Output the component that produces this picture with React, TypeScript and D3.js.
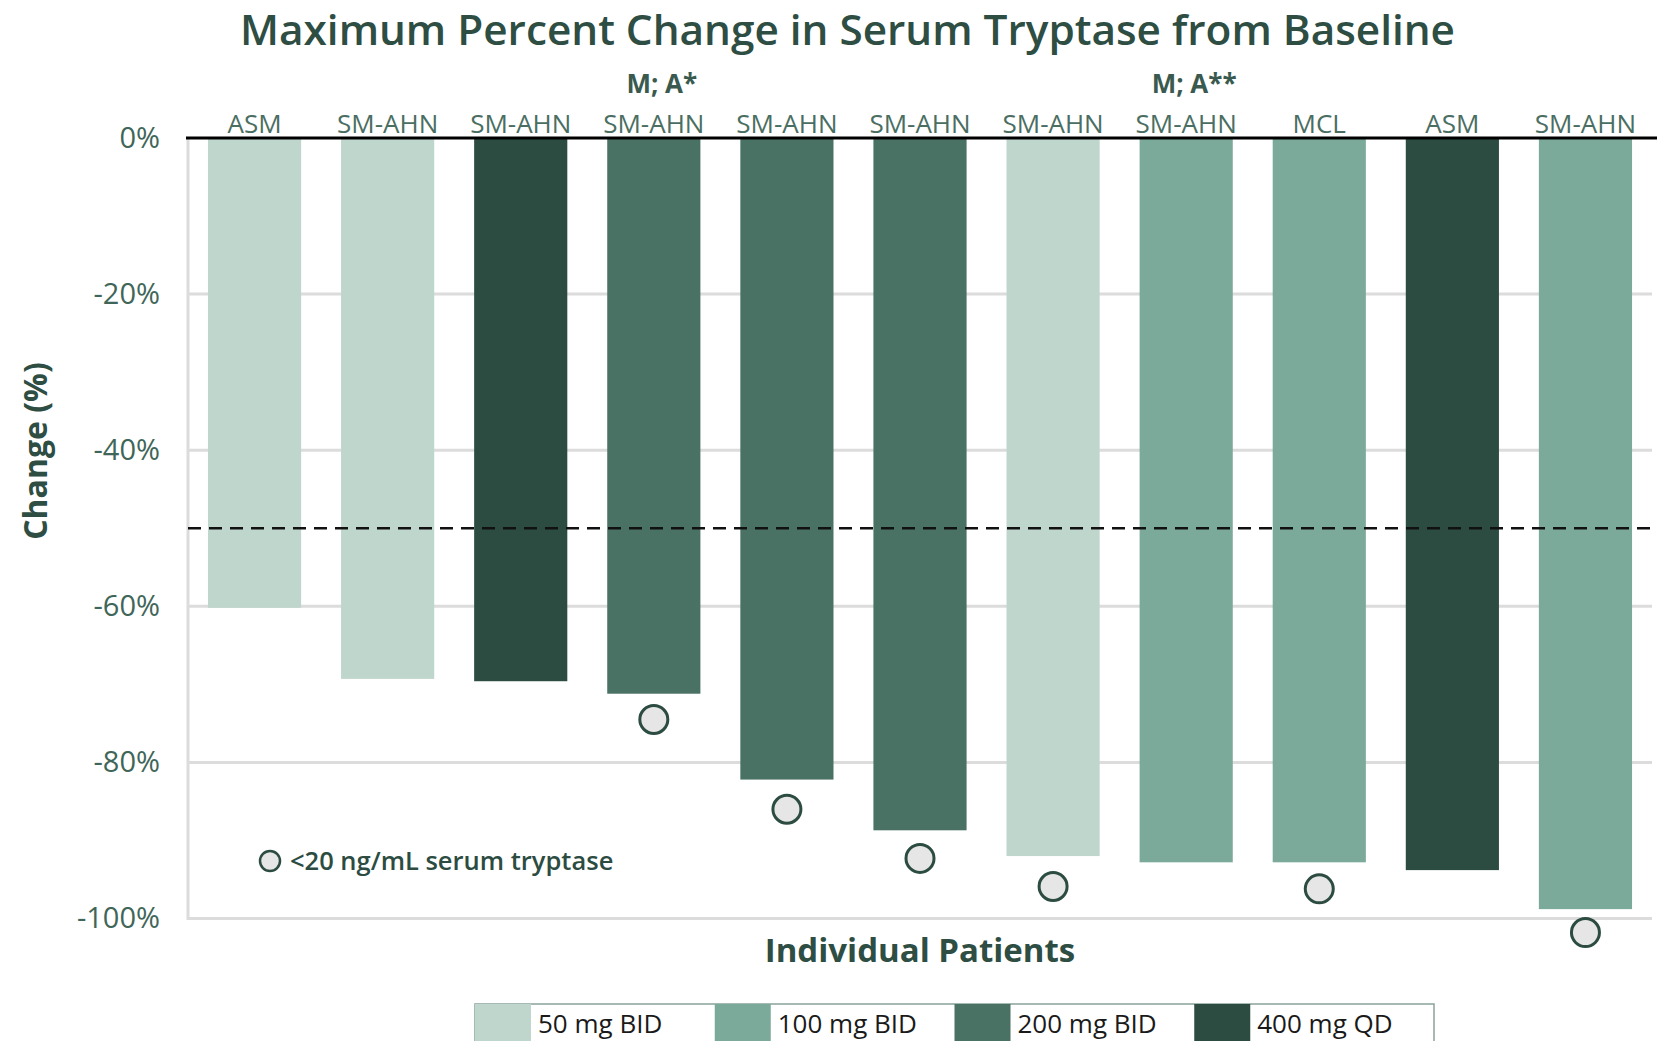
import * as d3 from "d3";
import { useEffect, useRef } from "react";

const patients = ["ASM", "SM-AHN", "SM-AHN", "SM-AHN", "SM-AHN", "SM-AHN", "SM-AHN", "SM-AHN", "MCL", "ASM", "SM-AHN"];
const doses = ["50 mg BID", "50 mg BID", "400 mg QD", "200 mg BID", "200 mg BID", "200 mg BID", "50 mg BID", "100 mg BID", "100 mg BID", "400 mg QD", "100 mg BID"];
const changes = [-60.2, -69.3, -69.6, -71.2, -82.2, -88.7, -92.0, -92.8, -92.8, -93.8, -98.8];
// circle marker positions (% change axis) for patients reaching <20 ng/mL
const tryptaseMarks = [null, null, null, -74.5, -86, -92.3, -95.9, null, -96.2, null, -101.8];
const annotations = [null, null, null, "M; A*", null, null, null, "M; A**", null, null, null];
const doseLevels = ["50 mg BID", "100 mg BID", "200 mg BID", "400 mg QD"];
const doseColors = ["#bfd6cc", "#7baa9b", "#4a7264", "#2c4c42"];
const yTicks = [0, -20, -40, -60, -80, -100];
const threshold = -50;

const W = 1663;
const H = 1041;
const green = "#2e4d43";
const font = "'Open Sans', sans-serif";

export default function App() {
  const ref = useRef<SVGSVGElement>(null);

  useEffect(() => {
    const svg = d3.select(ref.current);
    svg.selectAll("*").remove();

    const x = d3
      .scaleBand<number>()
      .domain(d3.range(patients.length))
      .range([188, 1652])
      .paddingInner(0.3)
      .paddingOuter(0.15);

    const y = d3.scaleLinear().domain([-100, 0]).range([918.5, 138]);

    const color = d3.scaleOrdinal<string, string>().domain(doseLevels).range(doseColors);

    // title
    svg
      .append("text")
      .attr("x", 240)
      .attr("y", 45)
      .attr("textLength", 1215)
      .attr("lengthAdjust", "spacingAndGlyphs")
      .attr("font-family", font)
      .attr("font-weight", 600)
      .attr("font-size", 41)
      .attr("fill", green)
      .text("Maximum Percent Change in Serum Tryptase from Baseline");

    // gridlines
    svg
      .append("g")
      .selectAll("line")
      .data(yTicks.filter((d) => d !== 0))
      .join("line")
      .attr("x1", 188)
      .attr("x2", 1652)
      .attr("y1", (d) => y(d))
      .attr("y2", (d) => y(d))
      .attr("stroke", "#dcdcdc")
      .attr("stroke-width", 3);

    svg
      .append("line")
      .attr("x1", 188)
      .attr("x2", 188)
      .attr("y1", y(0))
      .attr("y2", y(-100) + 1.5)
      .attr("stroke", "#dcdcdc")
      .attr("stroke-width", 3);

    // y axis labels
    const yAxis = svg
      .append("g")
      .attr("transform", "translate(160,0)")
      .call(
        d3
          .axisLeft(y)
          .tickValues(yTicks)
          .tickSize(0)
          .tickPadding(0)
          .tickFormat((d) => `${d}%`)
      );
    yAxis.select(".domain").remove();
    yAxis
      .selectAll("text")
      .attr("font-family", font)
      .attr("font-size", 29)
      .attr("fill", "#3f6658");

    // bars
    svg
      .append("g")
      .selectAll("rect")
      .data(changes)
      .join("rect")
      .attr("x", (_, i) => x(i)!)
      .attr("y", y(0))
      .attr("width", x.bandwidth())
      .attr("height", (d) => y(d) - y(0))
      .attr("fill", (_, i) => color(doses[i]));

    // zero line
    svg
      .append("line")
      .attr("x1", 186)
      .attr("x2", 1657)
      .attr("y1", y(0))
      .attr("y2", y(0))
      .attr("stroke", "#000")
      .attr("stroke-width", 3);

    // threshold dashed line
    svg
      .append("line")
      .attr("x1", 188)
      .attr("x2", 1657)
      .attr("y1", y(threshold))
      .attr("y2", y(threshold))
      .attr("stroke", "#111")
      .attr("stroke-width", 2.5)
      .attr("stroke-dasharray", "13,8");

    // patient category labels
    svg
      .append("g")
      .selectAll("text")
      .data(patients)
      .join("text")
      .attr("x", (_, i) => x(i)! + x.bandwidth() / 2)
      .attr("y", 133)
      .attr("text-anchor", "middle")
      .attr("font-family", font)
      .attr("font-size", 26)
      .attr("fill", "#4a6e62")
      .text((d) => d);

    svg
      .append("g")
      .selectAll("text")
      .data(annotations.map((a, i) => ({ a, i })).filter((d) => d.a))
      .join("text")
      .attr("x", (d) => x(d.i)! + x.bandwidth() / 2)
      .attr("dx", 8)
      .attr("y", 93)
      .attr("text-anchor", "middle")
      .attr("font-family", font)
      .attr("font-weight", 700)
      .attr("font-size", 26)
      .attr("fill", "#3a5a4f")
      .text((d) => d.a as string);

    // tryptase markers
    svg
      .append("g")
      .selectAll("circle")
      .data(tryptaseMarks.map((m, i) => ({ m, i })).filter((d) => d.m !== null))
      .join("circle")
      .attr("cx", (d) => x(d.i)! + x.bandwidth() / 2)
      .attr("cy", (d) => y(d.m as number))
      .attr("r", 14)
      .attr("fill", "#e6e6e6")
      .attr("stroke", "#2c4c42")
      .attr("stroke-width", 3);

    // marker key
    svg
      .append("circle")
      .attr("cx", 270)
      .attr("cy", 861)
      .attr("r", 10)
      .attr("fill", "#e6e6e6")
      .attr("stroke", "#2c4c42")
      .attr("stroke-width", 2.5);
    svg
      .append("text")
      .attr("x", 290)
      .attr("y", 870)
      .attr("font-family", font)
      .attr("font-weight", 600)
      .attr("font-size", 25.5)
      .attr("fill", "#2c4c42")
      .text("<20 ng/mL serum tryptase");

    // axis titles
    svg
      .append("text")
      .attr("transform", "translate(47,451) rotate(-90)")
      .attr("text-anchor", "middle")
      .attr("font-family", font)
      .attr("font-weight", 700)
      .attr("font-size", 32)
      .attr("fill", green)
      .text("Change (%)");

    svg
      .append("text")
      .attr("x", 920)
      .attr("y", 962)
      .attr("text-anchor", "middle")
      .attr("font-family", font)
      .attr("font-weight", 700)
      .attr("font-size", 33)
      .attr("fill", green)
      .text("Individual Patients");

    // legend
    const lx = d3.scaleBand<string>().domain(doseLevels).range([475, 1434]);
    const legend = svg.append("g");
    legend
      .append("rect")
      .attr("x", 475)
      .attr("y", 1004)
      .attr("width", 959)
      .attr("height", 60)
      .attr("fill", "none")
      .attr("stroke", "#8aa39a")
      .attr("stroke-width", 1.5);
    const item = legend
      .selectAll("g")
      .data(doseLevels)
      .join("g")
      .attr("transform", (d) => `translate(${lx(d)},1004)`);
    item
      .append("rect")
      .attr("width", 56)
      .attr("height", 40)
      .attr("fill", (d) => color(d));
    item
      .append("text")
      .attr("x", 63)
      .attr("y", 29)
      .attr("font-family", font)
      .attr("font-size", 26)
      .attr("fill", "#1a1a1a")
      .text((d) => d);
  }, []);

  return (
    <svg
      ref={ref}
      width={W}
      height={H}
      style={{ position: "absolute", left: 0, top: 0, background: "#fff" }}
    />
  );
}
